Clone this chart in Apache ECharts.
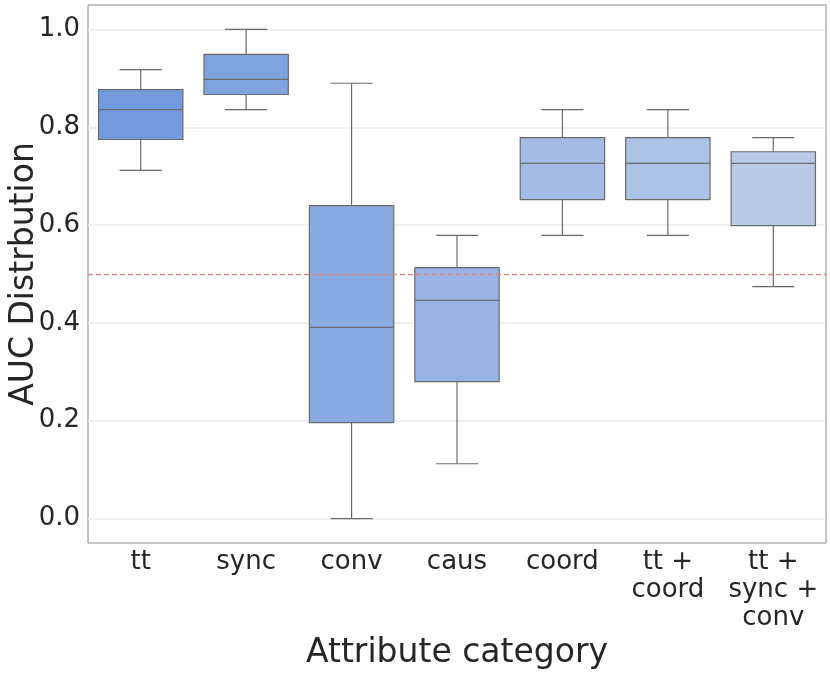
<!DOCTYPE html>
<html>
  <head>
    <meta charset="utf-8">
    <script src="https://cdn.jsdelivr.net/npm/echarts@6/dist/echarts.min.js"></script>
    <style>
      html, body { margin: 0; padding: 0; background: #fff; }
      #chart { width: 830px; height: 674px; }
    </style>
  </head>
  <body>
    <div id="chart"></div>
    <script>
      // categories and box stats
      const categories = ['tt', 'sync', 'conv', 'caus', 'coord', 'tt +\ncoord', 'tt +\nsync +\nconv'];
      const whiskerLow = [0.712, 0.836, 0.000, 0.112, 0.579, 0.579, 0.474];
      const q1 = [0.775, 0.867, 0.196, 0.280, 0.652, 0.652, 0.599];
      const median = [0.836, 0.898, 0.391, 0.446, 0.726, 0.726, 0.726];
      const q3 = [0.877, 0.949, 0.640, 0.513, 0.779, 0.779, 0.750];
      const whiskerHigh = [0.918, 1.000, 0.890, 0.579, 0.836, 0.836, 0.779];
      const yTicks = [0, 0.2, 0.4, 0.6, 0.8, 1.0];
      const chanceLevel = 0.5;

      const boxColors = ['#719bdd', '#7ea3df', '#89abe1', '#97b3e3', '#a3bbe5', '#aec2e7', '#b9cae9'];
      const lineColor = '#6a6a6a';

      const boxData = categories.map((c, i) => [i, whiskerLow[i], q1[i], median[i], q3[i], whiskerHigh[i]]);

      const chart = echarts.init(document.getElementById('chart'));
      chart.setOption({
        animation: false,
        textStyle: { fontFamily: 'DejaVu Sans' },
        grid: {
          left: 88, right: 4, top: 5, bottom: 131,
          outerBoundsMode: 'none',
          containLabel: false,
          show: true, borderColor: '#8a8a8a', borderWidth: 1
        },
        xAxis: {
          type: 'category',
          data: categories,
          axisLine: { show: false },
          axisTick: { show: false },
          axisLabel: { fontSize: 26, color: '#262626', margin: 5, lineHeight: 28, interval: 0 },
          name: 'Attribute category',
          nameLocation: 'middle',
          nameGap: 94,
          nameMoveOverlap: false,
          nameTextStyle: { fontSize: 33, color: '#262626' }
        },
        yAxis: {
          type: 'value',
          min: -0.05,
          max: 1.05,
          axisLine: { show: false },
          axisTick: { show: false, customValues: yTicks },
          axisLabel: {
            fontSize: 26, color: '#262626', margin: 8,
            customValues: yTicks,
            formatter: v => v.toFixed(1)
          },
          splitLine: { show: false },
          name: 'AUC Distrbution',
          nameLocation: 'middle',
          nameGap: 47,
          nameMoveOverlap: false,
          nameTextStyle: { fontSize: 33, color: '#262626' }
        },
        series: [{
          type: 'custom',
          data: boxData,
          encode: { x: 0, y: [1, 2, 3, 4, 5] },
          z: 3,
          renderItem: function (params, api) {
            const x = api.value(0);
            const w = api.size([1, 0])[0] * 0.8;
            const cap = w / 2;
            const pLow = api.coord([x, api.value(1)]);
            const pQ1 = api.coord([x, api.value(2)]);
            const pMed = api.coord([x, api.value(3)]);
            const pQ3 = api.coord([x, api.value(4)]);
            const pHigh = api.coord([x, api.value(5)]);
            const cx = pMed[0];
            const st = { stroke: lineColor, lineWidth: 1.2 };
            return {
              type: 'group',
              children: [
                { type: 'line', shape: { x1: cx, y1: pQ1[1], x2: cx, y2: pLow[1] }, style: st },
                { type: 'line', shape: { x1: cx, y1: pQ3[1], x2: cx, y2: pHigh[1] }, style: st },
                { type: 'line', shape: { x1: cx - cap / 2, y1: pLow[1], x2: cx + cap / 2, y2: pLow[1] }, style: st },
                { type: 'line', shape: { x1: cx - cap / 2, y1: pHigh[1], x2: cx + cap / 2, y2: pHigh[1] }, style: st },
                {
                  type: 'rect',
                  shape: { x: cx - w / 2, y: pQ3[1], width: w, height: pQ1[1] - pQ3[1] },
                  style: { fill: boxColors[params.dataIndex], stroke: lineColor, lineWidth: 1.2 }
                },
                { type: 'line', shape: { x1: cx - w / 2, y1: pMed[1], x2: cx + w / 2, y2: pMed[1] }, style: st }
              ]
            };
          }
        }, {
          // horizontal grid lines, kept under the boxes
          type: 'line',
          data: [],
          z: 1,
          markLine: {
            silent: true,
            z: 1,
            symbol: 'none',
            label: { show: false },
            data: yTicks.map(v => ({ yAxis: v, lineStyle: { color: '#ebebeb', width: 1.5, type: 'solid' } }))
          }
        }, {
          type: 'line',
          data: [],
          z: 6,
          markLine: {
            silent: true,
            z: 10,
            symbol: 'none',
            label: { show: false },
            lineStyle: { color: '#e08585', width: 1.3, type: [5, 3] },
            data: [{ yAxis: chanceLevel }]
          }
        }]
      });
    </script>
  </body>
</html>
